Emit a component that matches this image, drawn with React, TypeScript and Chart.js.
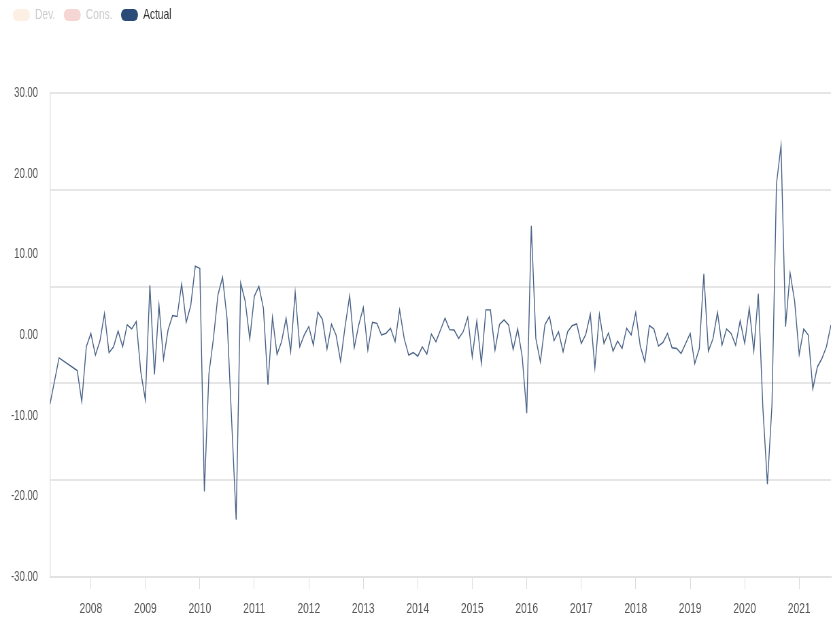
import React, { useEffect, useRef } from "react";
import { Chart, registerables } from "chart.js";

Chart.register(...registerables);

// Monthly series, first entry is April 2007 (null = no release that month)
const firstMonth = "2007-04";
const actual: (number | null)[] = [
  // 2007 Apr..Dec
  -8.55, null, -2.84, null, null, null, -4.4, -8.25, -1.46,
  // 2008
  0.2, -2.5, -0.75, 2.66, -2.2, -1.46, 0.5, -1.46, 1.25, 0.75, 1.66, -4.6,
  // 2009
  -8.05, 6.16, -4.9, 3.7, -3.0, 0.62, 2.41, 2.29, 6.33, 1.58, 3.66, 8.54,
  // 2010
  8.25, -19.4, -4.8, -0.42, 5.0, 7.16, 2.0, -10.5, -22.9, 6.45, 4.16, -0.5,
  // 2011
  4.79, 6.04, 3.33, -6.17, 2.2, -2.4, -0.84, 2.08, -2.08, 5.29, -1.46, 0.0,
  // 2012
  1.04, -1.25, 2.83, 1.95, -1.75, 1.33, 0.0, -3.25, 1.1, 4.87, -1.58, 1.25,
  // 2013
  3.41, -1.87, 1.58, 1.45, 0.0, 0.2, 0.83, -0.83, 3.12, -0.42, -2.5, -2.17,
  // 2014
  -2.63, -1.46, -2.38, 0.12, -0.83, 0.62, 2.08, 0.66, 0.62, -0.42, 0.41, 2.2,
  // 2015
  -2.71, 1.75, -3.54, 3.12, 3.12, -1.87, 1.3, 1.87, 1.25, -1.8, 0.75, -2.71,
  // 2016
  -9.7, 13.54, -0.42, -3.33, 1.25, 2.29, -0.71, 0.41, -2.08, 0.41, 1.16, 1.37,
  // 2017
  -1.04, 0.08, 2.58, -4.08, 2.58, -1.04, 0.25, -2.0, -0.75, -1.67, 0.83, 0.0,
  // 2018
  2.79, -1.37, -3.33, 1.16, 0.75, -1.37, -0.92, 0.2, -1.58, -1.67, -2.29, -1.04,
  // 2019
  0.2, -3.54, -1.67, 7.58, -2.0, -0.5, 2.79, -1.25, 0.75, 0.2, -1.25, 1.75,
  // 2020
  -1.04, 3.33, -2.0, 5.12, -9.0, -18.5, -8.75, 18.75, 23.5, 1.04, 7.7, 4.16,
  // 2021 Jan..Aug
  -2.42, 0.75, 0.0, -6.67, -3.96, -2.92, -1.46, 1.25,
];

const yearLabels = [
  "2008", "2009", "2010", "2011", "2012", "2013", "2014",
  "2015", "2016", "2017", "2018", "2019", "2020", "2021",
];
const yTicks = [-30, -20, -10, 0, 10, 20, 30];
const seriesNames = ["Dev.", "Cons.", "Actual"];
const seriesColors = ["#fcf0e4", "#f6d6d4", "#2c4a78"];
const legendTextColors = ["#cccccc", "#cccccc", "#333333"];

const FONT = "'Liberation Sans', Arial, sans-serif";
// the reference is horizontally condensed; draw wider and squeeze
const SQUEEZE = 0.68;
const VIEW_W = 837;
const VIEW_H = 624;
const CANVAS_W = Math.round(VIEW_W / SQUEEZE);

function monthIndex(ym: string): number {
  const [y, m] = ym.split("-").map(Number);
  return (y - 2008) * 12 + (m - 1);
}

export default function App() {
  const ref = useRef<HTMLCanvasElement | null>(null);

  useEffect(() => {
    document.body.style.margin = "0";
    const canvas = ref.current;
    if (!canvas) return;
    const start = monthIndex(firstMonth);
    const points = actual.map((v, i) => ({ x: start + i, y: v }));
    const xMin = start;
    const xMax = start + actual.length - 1;

    const legendSpacer = {
      id: "legendSpacer",
      beforeInit(chart: any) {
        const orig = chart.legend.fit;
        chart.legend.fit = function () {
          orig.call(this);
          this.height = 98;
        };
      },
    };

    const chart = new Chart(canvas, {
      type: "line",
      data: {
        datasets: [
          { label: seriesNames[0], data: [], borderColor: seriesColors[0], backgroundColor: seriesColors[0] },
          { label: seriesNames[1], data: [], borderColor: seriesColors[1], backgroundColor: seriesColors[1] },
          {
            label: seriesNames[2],
            data: points as any,
            borderColor: "#4a6387",
            backgroundColor: seriesColors[2],
            borderWidth: 1.4,
            pointRadius: 0,
            tension: 0,
            spanGaps: true,
            yAxisID: "y",
          },
        ],
      },
      options: {
        responsive: false,
        animation: false,
        layout: { padding: { left: 6.5, right: 9, top: -5, bottom: 0 } },
        plugins: {
          tooltip: { enabled: false },
          legend: {
            position: "top",
            align: "start",
            labels: {
              boxWidth: 25,
              boxHeight: 12,
              padding: 12.5,
              useBorderRadius: true,
              borderRadius: 6,
              font: { family: FONT, size: 15 },
              generateLabels: () =>
                seriesNames.map((name, i) => ({
                  text: name,
                  fillStyle: seriesColors[i],
                  strokeStyle: seriesColors[i],
                  lineWidth: 0,
                  fontColor: legendTextColors[i],
                  hidden: false,
                  datasetIndex: i,
                  borderRadius: 6,
                })) as any,
            },
          },
        },
        scales: {
          x: {
            type: "linear",
            min: xMin,
            max: xMax,
            afterBuildTicks: (scale: any) => {
              scale.ticks = yearLabels.map((_, k) => ({ value: k * 12 }));
            },
            afterFit: (scale: any) => {
              scale.height = 47;
            },
            ticks: {
              autoSkip: false,
              maxRotation: 0,
              padding: 11,
              color: "#555555",
              font: { family: FONT, size: 15 },
              callback: (_v: any, i: number) => yearLabels[i],
            },
            grid: {
              display: true,
              drawOnChartArea: false,
              drawTicks: true,
              tickLength: 12,
              color: "#dcdcdc",
              lineWidth: 1,
            },
            border: { display: true, color: "#e2e2e2", width: 2 },
          },
          y: {
            type: "linear",
            position: "left",
            min: -30,
            max: 30,
            afterBuildTicks: (scale: any) => {
              scale.ticks = yTicks.map((v) => ({ value: v }));
            },
            afterFit: (scale: any) => {
              scale.width = 67;
            },
            ticks: {
              padding: 17.6,
              color: "#555555",
              font: { family: FONT, size: 14 },
              callback: (v: any) => Number(v).toFixed(2),
            },
            grid: { display: false, drawTicks: false },
            border: { display: true, color: "#e0e0e0", width: 1.4 },
          },
          y2: {
            type: "linear",
            position: "right",
            min: 0,
            max: 5,
            afterBuildTicks: (scale: any) => {
              scale.ticks = [0, 1, 2, 3, 4, 5].map((v) => ({ value: v }));
            },
            afterFit: (scale: any) => {
              scale.width = 0;
            },
            ticks: { display: false },
            grid: { display: true, drawTicks: false, color: "#e6e6e6", lineWidth: 2 },
            border: { display: false },
          },
        },
      },
      plugins: [legendSpacer],
    });

    return () => chart.destroy();
  }, []);

  return (
    <div style={{ position: "relative", width: VIEW_W, height: VIEW_H, overflow: "hidden" }}>
      <canvas
        ref={ref}
        width={CANVAS_W}
        height={VIEW_H}
        style={{
          display: "block",
          width: CANVAS_W,
          height: VIEW_H,
          transform: `scaleX(${SQUEEZE})`,
          transformOrigin: "0 0",
        }}
      />
    </div>
  );
}
